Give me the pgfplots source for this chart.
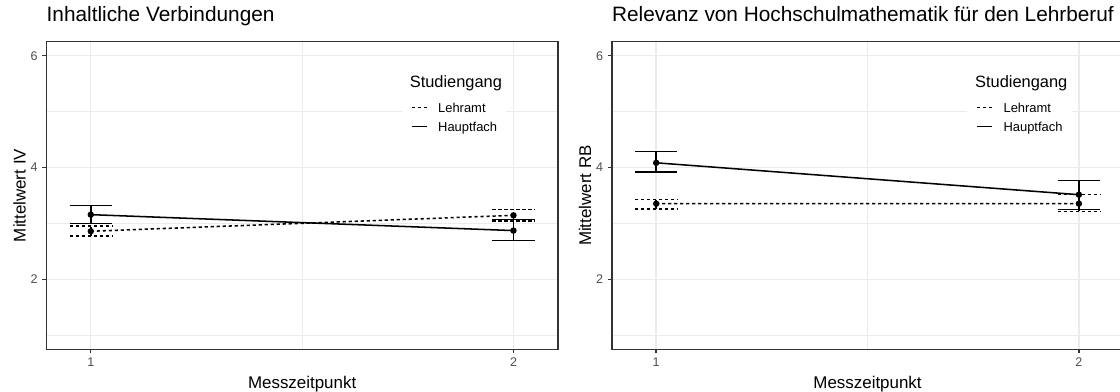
\documentclass[border=0pt]{standalone}
\usepackage{fontspec}
\setmainfont{Liberation Sans}
\usepackage{pgfplots}
\pgfplotsset{compat=1.18}
\definecolor{gridc}{RGB}{235,235,235}
\definecolor{tickc}{RGB}{77,77,77}
\definecolor{framec}{RGB}{51,51,51}
\pgfplotsset{
 lehr/.style={black, line width=1.15pt, dash pattern=on 2.4pt off 2.1pt},
 haupt/.style={black, line width=1.15pt},
 myaxis/.style={
  scale only axis, width=383.6pt, height=230.7pt,
  xmin=0.895, xmax=2.105, ymin=0.75, ymax=6.25,
  xtick={1,2}, minor xtick={1.5}, ytick={2,4,6}, minor ytick={1,3,5},
  xtick pos=bottom, ytick pos=left,
  grid=both,
  major grid style={gridc, line width=1.07pt},
  minor grid style={gridc, line width=0.53pt},
  axis line style={framec, line width=1.1pt},
  tick align=outside, major tick length=3pt, minor tick length=0pt,
  tick style={framec, line width=1.07pt},
  /pgf/number format/assume math mode=true,
  ticklabel style={font=\fontsize{9.4}{11}\selectfont, text=tickc},
  title style={at={(axis description cs:0,1)}, anchor=base west, yshift=9.3pt, inner sep=0pt, font=\fontsize{15.6}{18}\selectfont},
  xlabel style={at={(axis description cs:0.5,0)}, anchor=base, yshift=-29.2pt, inner sep=0pt, font=\fontsize{12.7}{15}\selectfont},
  ylabel style={at={([xshift=-15.5pt]axis description cs:0,0.5)}, anchor=base, inner sep=0pt, font=\fontsize{12.7}{15}\selectfont},
  xlabel={Messzeitpunkt},
  legend style={at={(axis description cs:0.694,0.832)}, anchor=north west, draw=none, fill=white, inner sep=7pt,
    row sep=5pt, column sep=8pt, nodes={inner sep=0pt, text height=7pt, text depth=2pt, anchor=base west},
    font=\fontsize{9.7}{11}\selectfont},
  legend cell align=left,
  legend image code/.code={\draw[##1] (0pt,3.5pt) -- (11.25pt,3.5pt);},
  unbounded coords=jump,
 },
}
\begin{document}
\begin{tikzpicture}
\useasboundingbox (0,0) rectangle (840pt,294pt);
% ---------- left panel ----------
\begin{axis}[myaxis, at={(34.8pt,262.7pt)}, anchor=north west,
  title={Inhaltliche Verbindungen}, ylabel={Mittelwert IV}]
% error bars Lehramt
\addplot[lehr, forget plot] coordinates {(0.95,2.777) (1.05,2.777) (1,nan) (1,2.777) (1,2.956) (1,nan) (0.95,2.956) (1.05,2.956)
 (1,nan) (1.95,3.045) (2.05,3.045) (2,nan) (2,3.045) (2,3.248) (2,nan) (1.95,3.248) (2.05,3.248)};
% error bars Hauptfach
\addplot[haupt, forget plot] coordinates {(0.95,3.004) (1.05,3.004) (1,nan) (1,3.004) (1,3.324) (1,nan) (0.95,3.324) (1.05,3.324)
 (1,nan) (1.95,2.695) (2.05,2.695) (2,nan) (2,2.695) (2,3.069) (2,nan) (1.95,3.069) (2.05,3.069)};
% means
\addplot[lehr, forget plot, mark=*, mark size=1.8pt, mark options={solid}] coordinates {(1,2.861) (2,3.146)};
\addplot[haupt, forget plot, mark=*, mark size=1.8pt] coordinates {(1,3.158) (2,2.873)};
\addlegendimage{lehr}\addlegendentry{Lehramt}
\addlegendimage{haupt}\addlegendentry{Hauptfach}
\node[anchor=base west, inner sep=0pt, font=\fontsize{12.3}{14}\selectfont] at (axis description cs:0.710,0.852) {Studiengang};
\end{axis}
% ---------- right panel ----------
\begin{axis}[myaxis, at={(458.85pt,262.7pt)}, anchor=north west,
  title={Relevanz von Hochschulmathematik für den Lehrberuf}, ylabel={Mittelwert RB}]
\addplot[lehr, forget plot] coordinates {(0.95,3.259) (1.05,3.259) (1,nan) (1,3.259) (1,3.431) (1,nan) (0.95,3.431) (1.05,3.431)
 (1,nan) (1.95,3.215) (2.05,3.215) (2,nan) (2,3.215) (2,3.515) (2,nan) (1.95,3.515) (2.05,3.515)};
\addplot[haupt, forget plot] coordinates {(0.95,3.918) (1.05,3.918) (1,nan) (1,3.918) (1,4.287) (1,nan) (0.95,4.287) (1.05,4.287)
 (1,nan) (1.95,3.253) (2.05,3.253) (2,nan) (2,3.253) (2,3.77) (2,nan) (1.95,3.77) (2.05,3.77)};
\addplot[lehr, forget plot, mark=*, mark size=1.8pt, mark options={solid}] coordinates {(1,3.354) (2,3.355)};
\addplot[haupt, forget plot, mark=*, mark size=1.8pt] coordinates {(1,4.085) (2,3.515)};
\addlegendimage{lehr}\addlegendentry{Lehramt}
\addlegendimage{haupt}\addlegendentry{Hauptfach}
\node[anchor=base west, inner sep=0pt, font=\fontsize{12.3}{14}\selectfont] at (axis description cs:0.710,0.852) {Studiengang};
\end{axis}
\end{tikzpicture}
\end{document}
